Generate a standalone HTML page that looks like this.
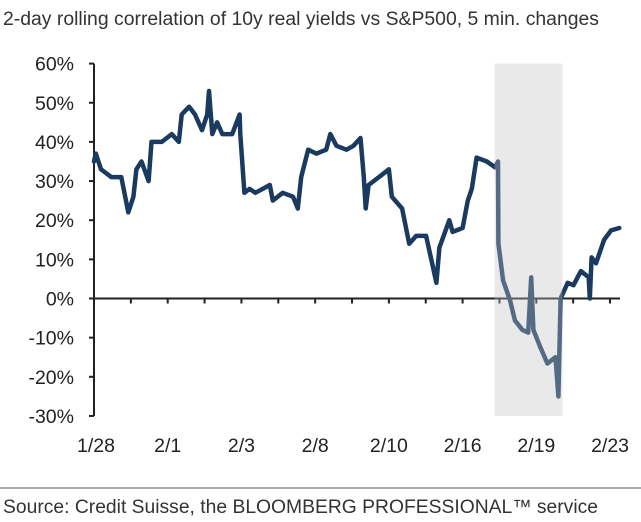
<!DOCTYPE html>
<html><head><meta charset="utf-8"><style>
body{margin:0;background:#fff;}
svg{display:block;font-family:"Liberation Sans",Arial,sans-serif;}
</style></head><body>
<svg id="chart" width="641" height="522">
<text x="3" y="25" font-size="19" fill="#333" textLength="596" lengthAdjust="spacingAndGlyphs">2-day rolling correlation of 10y real yields vs S&amp;P500, 5 min. changes</text>
<g id="plot"></g>
<line x1="0" y1="488" x2="641" y2="488" stroke="#555" stroke-width="1"/>
<text x="3" y="513" font-size="19" fill="#333" textLength="595" lengthAdjust="spacingAndGlyphs">Source: Credit Suisse, the BLOOMBERG PROFESSIONAL™ service</text>
</svg>
<script>
const xTickLabels = ["1/28","2/1","2/3","2/8","2/10","2/16","2/19","2/23"];
const yTicks = [60,50,40,30,20,10,0,-10,-20,-30];
const shadeRange = [10.87, 12.71];
const seriesX = [0,.05,.19,.47,.74,.93,1.07,1.15,1.29,1.48,1.56,1.84,2.11,2.3,2.38,2.58,2.74,2.93,3.07,3.12,3.21,3.34,3.48,3.75,3.95,3.97,4.08,4.22,4.38,4.77,4.85,5.12,5.4,5.53,5.62,5.81,6.03,6.3,6.41,6.58,6.85,7.04,7.23,7.32,7.37,7.45,7.73,8,8.08,8.36,8.55,8.74,9.01,9.29,9.37,9.64,9.73,10,10.14,10.25,10.38,10.66,10.88,10.96,10.97,11.1,11.29,11.42,11.62,11.78,11.86,11.92,12.11,12.3,12.52,12.6,12.66,12.85,13.01,13.21,13.42,13.45,13.5,13.62,13.84,14.03,14.25];
const seriesY = [35,37,33,31,31,22,26,33,35,30,40,40,42,40,47,49,47,43,47,53,42,45,42,42,47,42,27,28,27,29,25,27,26,23,31,38,37,38,42,39,38,39,41,31,23,29,31,33,26,23,14,16,16,4,13,20,17,18,25,28,36,35,33.5,35,14,4.6,-0.5,-5.6,-8,-8.7,5.4,-8,-12.5,-16.6,-15,-25,0,4,3.4,7,5.4,0,10.5,9,15,17.4,18];

const NS="http://www.w3.org/2000/svg";
const g=document.getElementById('plot');
const x0=94, unit=36.86, xEnd=620;
const X=u=>x0+u*unit;
const Y=v=>298.5-v*3.915;
function el(t,a){const e=document.createElementNS(NS,t);for(const k in a)e.setAttribute(k,a[k]);g.appendChild(e);return e;}

const shade=el('rect',{x:X(shadeRange[0]),y:Y(60),width:X(shadeRange[1])-X(shadeRange[0]),height:Y(-30)-Y(60),fill:'#e9e9e9'});



const ya=el('line',{x1:x0,y1:Y(60),x2:x0,y2:Y(-30),stroke:'#222','stroke-width':2});


yTicks.forEach(v=>{
  const t=el('line',{x1:x0-5,y1:Y(v),x2:x0,y2:Y(v),stroke:'#222','stroke-width':2});
  
  
  const l=el('text',{x:74,y:Y(v)+7,'font-size':19.5,fill:'#222','text-anchor':'end'});
  l.textContent=v+'%';
  
  
});
const xa=el('line',{x1:x0,y1:Y(0),x2:xEnd,y2:Y(0),stroke:'#222','stroke-width':2});


for(let i=1;i<=14;i++){
  const t=el('line',{x1:X(i),y1:Y(0),x2:X(i),y2:Y(0)+5,stroke:'#222','stroke-width':2});
  
  
}
xTickLabels.forEach((s,i)=>{
  const cx=i===0?X(0)+2:X(i*2);
  const l=el('text',{x:cx,y:452,'font-size':19.5,fill:'#222','text-anchor':'middle'});
  l.textContent=s;
  
  
});
const pts=seriesX.map((u,i)=>X(u).toFixed(1)+','+Y(seriesY[i]).toFixed(1)).join(' ');
const line=el('polyline',{points:pts,fill:'none',stroke:'#1b3a5f','stroke-width':4.5,'stroke-linejoin':'round','stroke-linecap':'round'});


const ov=el('rect',{x:X(shadeRange[0]),y:Y(60),width:X(shadeRange[1])-X(shadeRange[0]),height:Y(-30)-Y(60),fill:'#e9e9e9','fill-opacity':0.28});


</script>
</body></html>
